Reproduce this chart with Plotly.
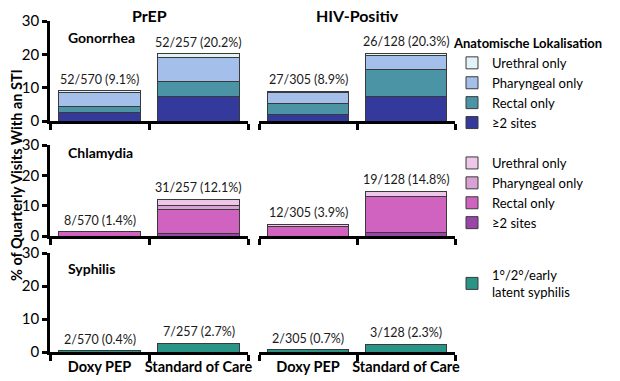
import plotly.graph_objects as go

# ---------------- data ----------------
groups = ["PrEP", "HIV-Positiv"]
arms = ["Doxy PEP", "Standard of Care"]
# order of values: PrEP-Doxy, PrEP-SOC, HIV-Doxy, HIV-SOC
gono_multi = [2.6, 7.3, 2.0, 7.3]
gono_rectal = [1.9, 4.5, 3.3, 8.2]
gono_pharyn = [4.2, 7.2, 3.3, 4.2]
gono_ureth = [0.4, 1.2, 0.3, 0.6]
gono_labels = ["52/570 (9.1%)", "52/257 (20.2%)", "27/305 (8.9%)", "26/128 (20.3%)"]

chla_multi = [0.0, 0.7, 0.0, 1.3]
chla_rectal = [1.4, 8.1, 3.1, 11.8]
chla_pharyn = [0.0, 1.4, 0.0, 0.0]
chla_ureth = [0.0, 1.9, 0.8, 1.7]
chla_labels = ["8/570 (1.4%)", "31/257 (12.1%)", "12/305 (3.9%)", "19/128 (14.8%)"]

syph_vals = [0.4, 2.7, 0.7, 2.3]
syph_labels = ["2/570 (0.4%)", "7/257 (2.7%)", "2/305 (0.7%)", "3/128 (2.3%)"]

site_names = ["≥2 sites", "Rectal only", "Pharyngeal only", "Urethral only"]
gono_colors = ["#343a9c", "#4a94a6", "#a4bfea", "#e2f2f6"]
chla_colors = ["#9a45aa", "#cf63bf", "#d9a0d4", "#eec6e8"]
syph_color = "#2a9487"
syph_name = "1°/2°/early<br>latent syphilis"
panel_names = ["Gonorrhea", "Chlamydia", "Syphilis"]

# ---------------- layout helpers ----------------
FONT = "Lato"
W, H = 620, 381
col_px = [(50, 248), (259, 455)]
row_px = [(21, 121), (145, 236), (253, 352)]
xs = [0.5, 1.5]

def ax_idx(r, c):
    return r * 2 + c + 1

def nm(prefix, k):
    return prefix if k == 1 else f"{prefix}{k}"

fig = go.Figure()

panels = [
    (list(zip(site_names, [gono_multi, gono_rectal, gono_pharyn, gono_ureth], gono_colors)), gono_labels, "legend"),
    (list(zip(site_names, [chla_multi, chla_rectal, chla_pharyn, chla_ureth], chla_colors)), chla_labels, "legend2"),
    ([(syph_name, syph_vals, syph_color)], syph_labels, "legend3"),
]

annotations = []
for r, (layers, labels, leg) in enumerate(panels):
    for c in range(2):
        k = ax_idx(r, c)
        for li, (name, vals, color) in enumerate(layers):
            fig.add_trace(go.Bar(
                x=xs, y=vals[2 * c:2 * c + 2], name=name,
                marker=dict(color=color, line=dict(color="#3a3a3a", width=1)),
                width=0.83, xaxis=nm("x", k), yaxis=nm("y", k),
                legend=leg, legendgroup=f"{leg}-{name}",
                showlegend=(c == 0), legendrank=100 - li,
                hoverinfo="skip",
            ))
        for j in range(2):
            total = sum(l[1][2 * c + j] for l in layers)
            annotations.append(dict(
                x=xs[j], y=total, xref=nm("x", k), yref=nm("y", k),
                text=labels[2 * c + j], showarrow=False, yanchor="bottom",
                xanchor="center", yshift=2,
                font=dict(family=FONT, size=12.5, color="#1a1a1a"),
            ))

layout = dict(
    width=W, height=H, margin=dict(l=0, r=0, t=0, b=0, autoexpand=False),
    plot_bgcolor="white", paper_bgcolor="white",
    barmode="stack", showlegend=True,
    font=dict(family=FONT, color="black"),
)

for r in range(3):
    for c in range(2):
        k = ax_idx(r, c)
        x0, x1 = col_px[c]
        y0, y1 = row_px[r]
        xa = dict(
            domain=[x0 / W, x1 / W], range=[0, 2], anchor=nm("y", k),
            showline=True, linecolor="black", linewidth=2.5,
            tickvals=xs, ticktext=arms if r == 2 else ["", ""], ticks="",
            showticklabels=(r == 2), showgrid=False, zeroline=False,
            tickfont=dict(family=FONT, size=14.5, color="black", weight="bold"),
            minor=dict(tickvals=[0, 1, 2], ticks="outside", ticklen=6,
                       tickwidth=2.5, tickcolor="black", showgrid=False),
            fixedrange=True, automargin=False,
        )
        ya = dict(
            domain=[1 - y1 / H, 1 - y0 / H], range=[0, 30], anchor=nm("x", k),
            tickvals=[0, 10, 20, 30], showgrid=False, zeroline=False,
            fixedrange=True, automargin=False,
        )
        if c == 0:
            ya.update(showline=True, linecolor="black", linewidth=2.5,
                      ticks="outside", ticklen=5, tickwidth=2.5, tickcolor="black",
                      tickfont=dict(family=FONT, size=15, color="black"))
        else:
            ya.update(showline=False, showticklabels=False, ticks="")
        layout[nm("xaxis", k)] = xa
        layout[nm("yaxis", k)] = ya

leg_common = dict(
    xref="paper", yref="paper", xanchor="left", yanchor="top",
    bgcolor="rgba(0,0,0,0)", font=dict(family=FONT, size=13, color="black"),
    itemwidth=30, tracegroupgap=0, traceorder="normal",
)
LX = 452
layout["legend"] = dict(leg_common, x=LX / W, y=1 - 31 / H,
                        title=dict(text="<b>Anatomische Lokalisation</b>",
                                   font=dict(family=FONT, size=13, color="black")))
layout["legend2"] = dict(leg_common, x=LX / W, y=1 - 148 / H)
layout["legend3"] = dict(leg_common, x=LX / W, y=1 - 260 / H)

# column titles
for c, g in enumerate(groups):
    x0, x1 = col_px[c]
    annotations.append(dict(x=(x0 + x1) / 2 / W, y=1 - 15 / H, xref="paper", yref="paper",
                            text=f"<b>{g}</b>", showarrow=False, xanchor="center",
                            yanchor="middle", font=dict(family=FONT, size=16, color="black")))
# panel titles
for r, pn in enumerate(panel_names):
    yy = [37, 152, 268][r]
    annotations.append(dict(x=66 / W, y=1 - yy / H, xref="paper", yref="paper",
                            text=f"<b>{pn}</b>", showarrow=False, xanchor="left",
                            yanchor="middle", font=dict(family=FONT, size=14, color="black")))
# y-axis title
annotations.append(dict(x=17 / W, y=1 - 175 / H, xref="paper", yref="paper",
                        text="<b>% of Quarterly Visits With an STI</b>", showarrow=False,
                        textangle=-90, xanchor="center", yanchor="middle",
                        font=dict(family=FONT, size=14.5, color="black")))

layout["annotations"] = annotations
fig.update_layout(**layout)
fig.write_html("out.html", config={"displayModeBar": False},
               post_script="document.body.style.margin='0';document.body.style.overflow='hidden';")
